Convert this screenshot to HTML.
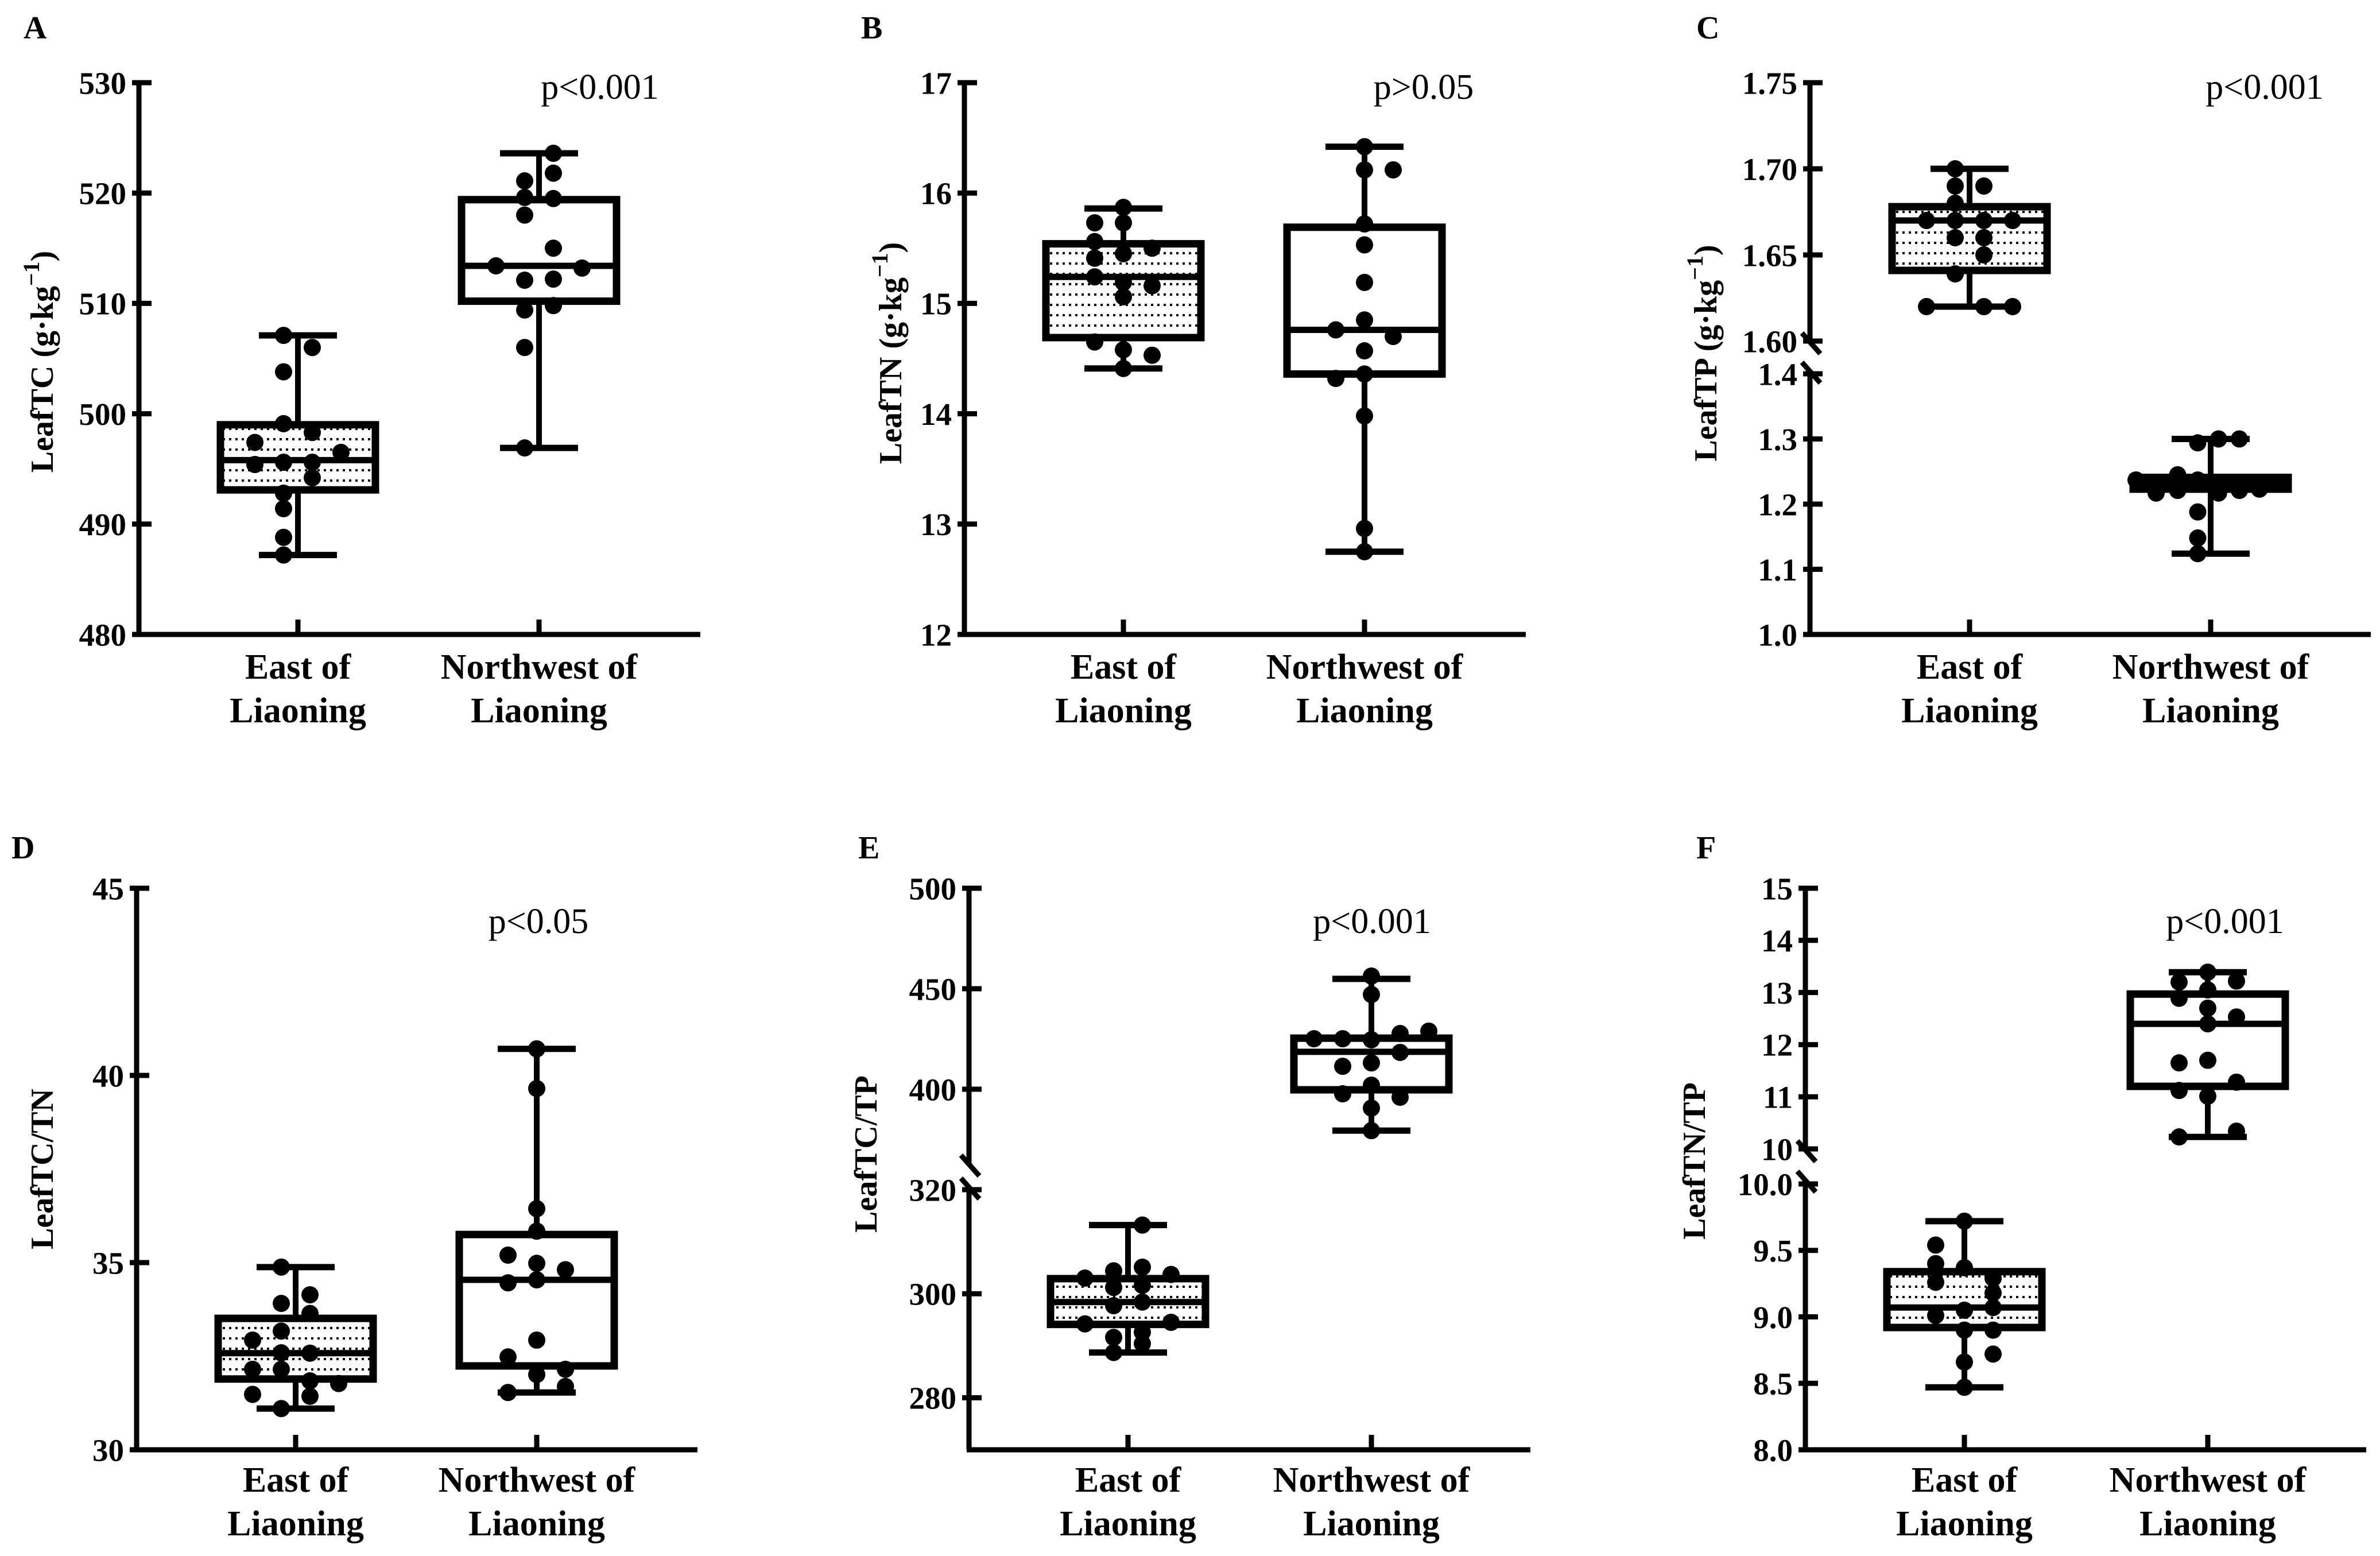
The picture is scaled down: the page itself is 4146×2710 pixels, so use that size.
<!DOCTYPE html>
<html><head><meta charset="utf-8"><style>
html,body{margin:0;padding:0;background:#fff;}
svg{display:block;}
text{font-family:"Liberation Serif","Times New Roman",serif;fill:#000;}
</style></head><body>
<svg id="fig" xmlns="http://www.w3.org/2000/svg" width="4146" height="2710" viewBox="0 0 4146 2710">
<defs>
<pattern id="dots" width="22" height="18" patternUnits="userSpaceOnUse">
<rect width="22" height="18" fill="#fff"/><rect x="3" y="7" width="4" height="4" fill="#000"/><rect x="14" y="7" width="4" height="4" fill="#000"/>
</pattern>
</defs>
</svg>
<script>
// ---------- DATA ----------
const categories = ["East of|Liaoning", "Northwest of|Liaoning"];
// Panel A LeafTC
const aEastVals = [507.1,506.0,503.8,499.1,498.3,497.4,496.5,495.6,495.6,495.4,494.2,492.8,491.4,488.8,487.2];
const aEastCols = [-1,1,-1,-1,1,-3,3,-1,1,-3,1,-1,-1,-1,-1];
const aNwVals = [523.6,521.8,521.1,519.6,519.5,518.0,515.0,513.4,513.2,512.1,512.2,509.4,509.8,506.0,496.9];
const aNwCols = [1,1,-1,-1,1,-1,1,-3,3,-1,1,-1,1,-1,-1];
const aEastBox = [487.2,493.1,495.8,499.0,507.1];
const aNwBox = [496.9,510.2,513.4,519.4,523.6];
const aTicks = [480,490,500,510,520,530];
// Panel B LeafTN
const bEastVals = [15.87,15.73,15.73,15.56,15.50,15.45,15.41,15.24,15.19,15.16,15.06,14.65,14.58,14.53,14.41];
const bEastCols = [0,-2,0,-2,2,0,-2,-2,0,2,0,-2,0,2,0];
const bNwVals = [16.42,16.21,16.21,15.72,15.53,15.19,14.85,14.76,14.70,14.57,14.32,14.36,13.98,12.96,12.75];
const bNwCols = [0,0,2,0,0,0,0,-2,2,0,-2,0,0,0,0];
const bEastBox = [14.41,14.69,15.24,15.54,15.86];
const bNwBox = [12.75,14.36,14.76,15.69,16.42];
const bTicks = [12,13,14,15,16,17];
// Panel C LeafTP
const cEastVals = [1.700,1.690,1.690,1.680,1.670,1.670,1.670,1.670,1.660,1.660,1.650,1.639,1.620,1.620,1.620];
const cEastCols = [-1,-1,1,-1,-3,-1,1,3,-1,1,1,-1,-3,1,3];
const cNwVals = [1.294,1.300,1.300,1.237,1.245,1.237,1.233,1.217,1.221,1.217,1.221,1.223,1.188,1.148,1.124];
const cNwCols = [-0.9,0.55,2,-5.2,-2.3,-0.9,4.9,-3.8,-2.3,0.55,2,3.4,-0.9,-0.9,-0.9];
const cEastBox = [1.620,1.641,1.670,1.678,1.700];
const cNwBox = [1.124,1.223,1.232,1.241,1.300];
const cTicksUpper = ["1.60","1.65","1.70","1.75"];
const cTicksLower = ["1.0","1.1","1.2","1.3","1.4"];
// Panel D LeafTC/TN
const dEastVals = [34.88,34.14,33.91,33.64,33.17,32.93,32.59,32.58,32.15,32.15,31.84,31.77,31.48,31.43,31.10];
const dEastCols = [-1,1,-1,1,-1,-3,-1,1,-3,-1,1,3,-3,1,-1];
const dNwVals = [40.71,39.65,36.44,35.84,35.20,34.98,34.81,34.46,34.54,32.93,32.48,32.15,32.01,31.69,31.53];
const dNwCols = [0,0,0,0,-2,0,2,-2,0,0,-2,2,0,2,-2];
const dEastBox = [31.10,31.89,32.58,33.51,34.88];
const dNwBox = [31.53,32.24,34.54,35.75,40.71];
const dTicks = [30,35,40,45];
// Panel E LeafTC/TP
const eEastVals = [313.2,304.4,305.1,303.0,303.7,301.2,301.6,298.4,297.7,294.2,294.5,291.6,292.6,290.4,288.7];
const eEastCols = [1,-1,1,-3,3,-1,1,1,-1,-3,3,-1,1,1,-1];
const eNwVals = [456.3,447.1,425.1,425.1,424.6,427.7,428.9,418.3,411.4,413.1,402.0,397.7,396.0,390.6,379.4];
const eNwCols = [0,0,-4,-2,0,2,4,2,-2,0,0,-2,2,0,0];
const eEastBox = [288.7,294.1,298.4,302.9,313.2];
const eNwBox = [379.4,399.7,418.6,425.4,454.9];
const eTicksUpper = ["400","450","500"];
const eTicksLower = ["280","300","320"];
// Panel F LeafTN/TP
const fEastVals = [9.72,9.54,9.40,9.37,9.29,9.26,9.18,9.07,9.05,9.01,8.90,8.90,8.66,8.72,8.47];
const fEastCols = [0,-2,-2,0,2,-2,2,2,0,-2,0,2,0,2,0];
const fNwVals = [13.39,13.20,13.22,13.05,12.89,12.70,12.53,12.40,11.65,11.70,11.28,11.12,11.01,10.34,10.23];
const fNwCols = [0,-2,2,0,-2,0,2,0,-2,0,2,-2,0,2,-2];
const fEastBox = [8.47,8.92,9.07,9.34,9.72];
const fNwBox = [10.23,11.20,12.40,12.97,13.39];
const fTicksUpper = ["10","11","12","13","14","15"];
const fTicksLower = ["8.0","8.5","9.0","9.5","10.0"];

// ---------- LAYOUT ----------
const NS = "http://www.w3.org/2000/svg";
const svg = document.getElementById('fig');
const FF = '"Liberation Serif","Times New Roman",serif';
function mk(tag, attrs, parent){ const e=document.createElementNS(NS,tag); for(const k in attrs) e.setAttribute(k,attrs[k]); if(tag==='text') e.setAttribute('font-family',FF); (parent||svg).appendChild(e); return e; }

const panels = [
 {id:'a', letter:'A', ax:242, top:144, bot:1105, xend:1220, c1:277, c2:697, letterX:41, letterY:67, titleX:92, titleY:630, title:'LeafTC', unit:true, p:'p<0.001', pdx:803, pY:172, labY:1182,
  segs:[{v0:480,v1:530,y0:1105,y1:144}], ticks:[aTicks.map(String)], eV:aEastVals,eC:aEastCols,nV:aNwVals,nC:aNwCols,eB:aEastBox,nB:aNwBox},
 {id:'b', letter:'B', ax:1680, top:144, bot:1105, xend:2658, c1:277, c2:697, letterX:1500, letterY:67, titleX:1570, titleY:615, title:'LeafTN', unit:true, p:'p>0.05', pdx:800, pY:172, labY:1182,
  segs:[{v0:12,v1:17,y0:1105,y1:144}], ticks:[bTicks.map(String)], eV:bEastVals,eC:bEastCols,nV:bNwVals,nC:bNwCols,eB:bEastBox,nB:bNwBox},
 {id:'c', letter:'C', ax:3153, top:144, bot:1105, xend:4130, c1:278, c2:698, letterX:2955, letterY:67, titleX:2990, titleY:615, title:'LeafTP', unit:true, p:'p<0.001', pdx:792, pY:172, labY:1182,
  segs:[{v0:1.60,v1:1.75,y0:594,y1:144,a0:598},{v0:1.0,v1:1.4,y0:1105,y1:651,a1:649}], ticks:[cTicksUpper,cTicksLower], eV:cEastVals,eC:cEastCols,nV:cNwVals,nC:cNwCols,eB:cEastBox,nB:cNwBox},
 {id:'d', letter:'D', ax:238, top:1547, bot:2525, xend:1215, c1:277, c2:697, letterX:20, letterY:1495, titleX:92, titleY:2036, title:'LeafTC/TN', unit:false, p:'p<0.05', pdx:700, pY:1625, labY:2598,
  segs:[{v0:30,v1:45,y0:2525,y1:1547}], ticks:[dTicks.map(String)], eV:dEastVals,eC:dEastCols,nV:dNwVals,nC:dNwCols,eB:dEastBox,nB:dNwBox},
 {id:'e', letter:'E', ax:1688, top:1547, bot:2525, xend:2666, c1:277, c2:701, letterX:1495, letterY:1495, titleX:1527, titleY:2010, title:'LeafTC/TP', unit:false, p:'p<0.001', pdx:702, pY:1625, labY:2598,
  segs:[{v0:400,v1:500,y0:1897,y1:1547,a0:2030},{v0:270,v1:320,y0:2525,y1:2072,a1:2070}], ticks:[eTicksUpper,eTicksLower], eV:eEastVals,eC:eEastCols,nV:eNwVals,nC:eNwCols,eB:eEastBox,nB:eNwBox},
 {id:'f', letter:'F', ax:3145, top:1547, bot:2525, xend:4122, c1:277, c2:701, letterX:2955, letterY:1495, titleX:2970, titleY:2022, title:'LeafTN/TP', unit:false, p:'p<0.001', pdx:731, pY:1625, labY:2598,
  segs:[{v0:10,v1:15,y0:2001,y1:1547,a0:2005},{v0:8,v1:10,y0:2525,y1:2062,a1:2058}], ticks:[fTicksUpper,fTicksLower], eV:fEastVals,eC:fEastCols,nV:fNwVals,nC:fNwCols,eB:fEastBox,nB:fNwBox}
];

function segY(s, v){ return s.y0 + (v - s.v0) / (s.v1 - s.v0) * (s.y1 - s.y0); }
function yScale(P, v){
  let s = P.segs.find(s => v >= s.v0 - 1e-9 && v <= s.v1 + 1e-9);
  if(!s){ s = P.segs.reduce((b,s)=>{const d=Math.min(Math.abs(v-s.v0),Math.abs(v-s.v1)); return (!b||d<b.d)?{s,d}:b;},null).s; }
  return segY(s, v);
}

panels.forEach(P => {
  const g = mk('g', {});
  
  

  const L = mk('text', {x:P.letterX, y:P.letterY, 'font-size':56, 'font-weight':'bold'}, g);
  L.textContent = P.letter;
  
  

  P.segs.forEach((s, si) => {
    const yA = s.a1 !== undefined ? s.a1 : s.y1;
    const yB = s.a0 !== undefined ? s.a0 : s.y0;
    const line = mk('line', {x1:P.ax, x2:P.ax, y1:Math.min(yA,yB), y2:Math.max(yA,yB), stroke:'#000', 'stroke-width':9}, g);
    
    
    const labels = P.ticks[si];
    labels.forEach(lbl => {
      const v = parseFloat(lbl);
      const y = segY(s, v);
      const t = mk('line', {x1:P.ax-12, x2:P.ax+22, y1:y, y2:y, stroke:'#000', 'stroke-width':9}, g);
      
      
      const tx = mk('text', {x:P.ax-22, y:y, dy:'0.35em', 'text-anchor':'end', 'font-size':55, 'font-weight':'bold'}, g);
      tx.textContent = lbl;
      
      
    });
  });
  P.segs.forEach(s => {
    [s.a0, s.a1].forEach(yb => {
      if(yb === undefined) return;
      const b = mk('line', {x1:P.ax-14, y1:yb-18, x2:P.ax+18, y2:yb+18, stroke:'#000', 'stroke-width':9}, g);
      
      
    });
  });
  const xa = mk('line', {x1:P.ax-4, x2:P.xend, y1:P.bot, y2:P.bot, stroke:'#000', 'stroke-width':9}, g);
  
  

  const tt = mk('text', {x:0, y:0, transform:`translate(${P.titleX},${P.titleY}) rotate(-90)`, 'text-anchor':'middle', 'font-size':56, 'font-weight':'bold'}, g);
  
  
  if(P.unit){
    tt.appendChild(document.createTextNode(P.title + ' (g·kg'));
    const sup = mk('tspan', {dy:-24, 'font-size':40}, tt); sup.textContent = '−1';
    const cl = mk('tspan', {dy:24}, tt); cl.textContent = ')';
  } else tt.textContent = P.title;

  const pt = mk('text', {x:P.ax+P.pdx, y:P.pY, 'text-anchor':'middle', 'font-size':62}, g);
  pt.textContent = P.p;
  
  

  const groups = [
    {cx:P.ax+P.c1, box:P.eB, vals:P.eV, cols:P.eC, fill:'url(#dots)', name:'east'},
    {cx:P.ax+P.c2, box:P.nB, vals:P.nV, cols:P.nC, fill:'#fff', name:'northwest'}
  ];
  groups.forEach((G, gi) => {
    const ct = mk('line', {x1:G.cx, x2:G.cx, y1:P.bot-26, y2:P.bot, stroke:'#000', 'stroke-width':9}, g);
    
    
    const parts = categories[gi].split('|');
    parts.forEach((txt, li) => {
      const cl = mk('text', {x:G.cx, y:P.labY + li*76, 'text-anchor':'middle', 'font-size':62, 'font-weight':'bold'}, g);
      cl.textContent = txt;
      
      
    });
    const [mn,q1,md,q3,mx] = G.box.map(v => yScale(P, v));
    const wh = mk('line', {x1:G.cx, x2:G.cx, y1:mx, y2:mn, stroke:'#000', 'stroke-width':10}, g);
    
    
    [mn, mx].forEach(y => {
      const cap = mk('line', {x1:G.cx-68, x2:G.cx+68, y1:y, y2:y, stroke:'#000', 'stroke-width':11}, g);
      
      
    });
    const bx = mk('rect', {x:G.cx-135, y:q3, width:270, height:q1-q3, fill:G.fill, stroke:'#000', 'stroke-width':13}, g);
    
    
    const med = mk('line', {x1:G.cx-135, x2:G.cx+135, y1:md, y2:md, stroke:'#000', 'stroke-width':11}, g);
    
    
    G.vals.forEach((v, i) => {
      const c = mk('circle', {cx:G.cx + G.cols[i]*25, cy:yScale(P, v), r:15, fill:'#000'}, g);
      
      
    });
  });
});
</script>
</body></html>
